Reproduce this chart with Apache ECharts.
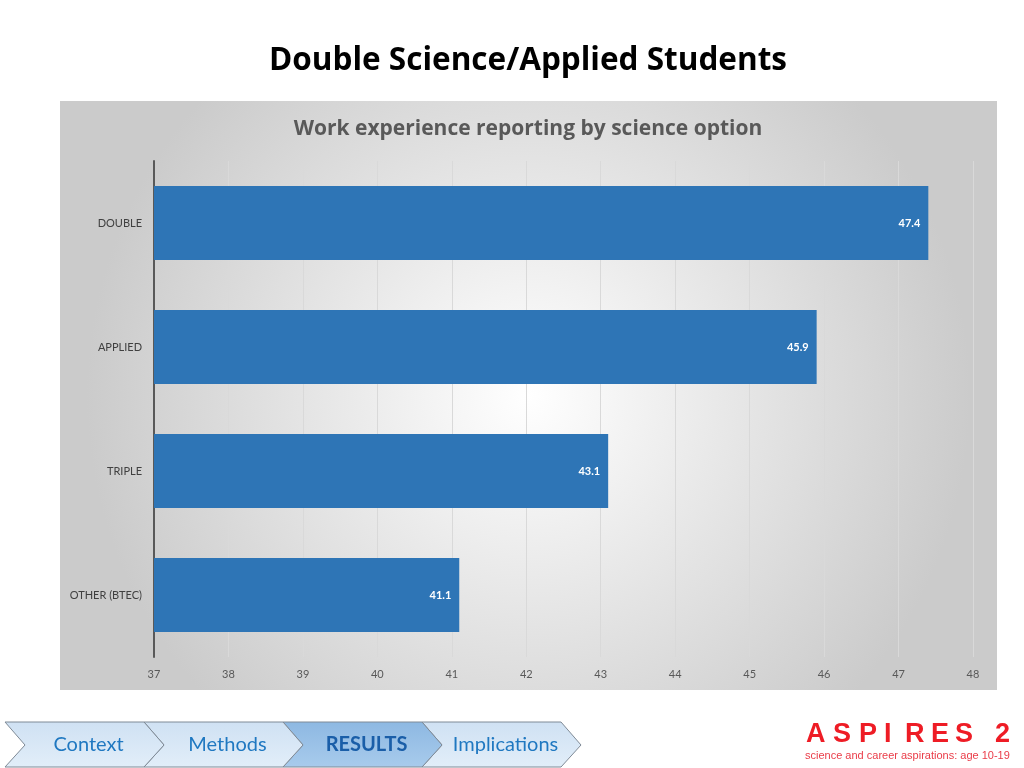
<!DOCTYPE html>
<html><head><meta charset="utf-8">
<script src="https://cdn.jsdelivr.net/npm/echarts@6/dist/echarts.min.js"></script>
<style>html,body{margin:0;padding:0;background:#fff}#c{width:1024px;height:768px}</style>
</head><body><div id="c"></div>
<script>
const categories = ['OTHER (BTEC)', 'TRIPLE', 'APPLIED', 'DOUBLE'];
const values = [41.1, 43.1, 45.9, 47.4];
const axisMin = 37, axisMax = 48, axisStep = 1;
const navItems = ['Context', 'Methods', 'RESULTS', 'Implications'];
const activeNav = 'RESULTS';
const logoLetters = ['A', 'S', 'P', 'I', 'R', 'E', 'S', '2'];
const logoX = [806, 833, 859, 884, 905, 931, 955, 995];

const chart = echarts.init(document.getElementById('c'));
const F = 'Lato, "Open Sans", sans-serif';
const FT = '"Open Sans", Lato, sans-serif';

const graphics = [
  { type: 'rect', z: -10, shape: { x: 60, y: 101, width: 937, height: 589 },
    style: { fill: { type: 'radial', x: 0.5, y: 0.5, r: 0.75,
      colorStops: [{ offset: 0, color: '#ffffff' }, { offset: 1, color: '#cbcbcb' }] } } },
  { type: 'text', x: 528, y: 61, style: { text: 'Double Science/Applied Students', font: 'bold 31.5px ' + FT, fill: '#000', align: 'center', verticalAlign: 'middle' } },
  { type: 'text', x: 528, y: 129, style: { text: 'Work experience reporting by science option', font: 'bold 21px ' + FT, fill: '#595959', align: 'center', verticalAlign: 'middle' } },
];
navItems.forEach((name, i) => {
  const x = 5 + 139 * i, w = 139, d = 20, yt = 722, yb = 767, ym = 745;
  const active = name === activeNav;
  graphics.push({ type: 'polygon', z: 10 - i,
    shape: { points: [[x, yt], [x + w, yt], [x + w + d, ym], [x + w, yb], [x, yb], [x + d, ym]] },
    style: { fill: active ? { type: 'linear', x: 0, y: 0, x2: 0, y2: 1, colorStops: [{ offset: 0, color: '#8db8e2' }, { offset: 1, color: '#a8cbec' }] }
                         : { type: 'linear', x: 0, y: 0, x2: 0, y2: 1, colorStops: [{ offset: 0, color: '#cfe1f3' }, { offset: 1, color: '#e2eef9' }] },
      stroke: '#7f8a96', lineWidth: 1 } });
  graphics.push({ type: 'text', z: 20, x: x + w / 2 + 14, y: 745,
    style: { text: name, font: (active ? 'bold ' : '') + '20px ' + F, fill: active ? '#1a5ea8' : '#1f78c1', align: 'center', verticalAlign: 'middle' } });
});
logoLetters.forEach((ch, i) => {
  graphics.push({ type: 'text', x: logoX[i], y: 735, style: { text: ch, font: 'bold 27px "Liberation Sans", Arial, sans-serif', fill: '#ee1c25', verticalAlign: 'middle' } });
});
graphics.push({ type: 'text', x: 805, y: 756, style: { text: 'science and career aspirations: age 10-19', font: '11px "Liberation Sans", Arial, sans-serif', fill: '#ea3c48', verticalAlign: 'middle' } });

chart.setOption({
  animation: false,
  backgroundColor: '#ffffff',
  graphic: graphics,
  grid: { left: 154, right: 51, top: 161, bottom: 111, containLabel: false },
  xAxis: { type: 'value', min: axisMin, max: axisMax, interval: axisStep,
    axisLine: { show: false }, axisTick: { show: false },
    splitLine: { show: true, lineStyle: { color: '#d9d9d9', width: 1 } },
    axisLabel: { margin: 12, fontFamily: F, fontSize: 11, color: '#595959' } },
  yAxis: { type: 'category', data: categories,
    axisLine: { show: true, lineStyle: { color: '#595959', width: 2 } },
    axisTick: { show: false },
    axisLabel: { margin: 12, fontFamily: F, fontSize: 11, color: '#404040' } },
  series: [{ type: 'bar', data: values, barWidth: 74,
    itemStyle: { color: '#2e75b6' },
    label: { show: true, position: 'insideRight', distance: 8, formatter: p => p.value.toFixed(1),
      fontFamily: F, fontWeight: 'bold', fontSize: 11, color: '#ffffff' } }]
});
</script></body></html>
